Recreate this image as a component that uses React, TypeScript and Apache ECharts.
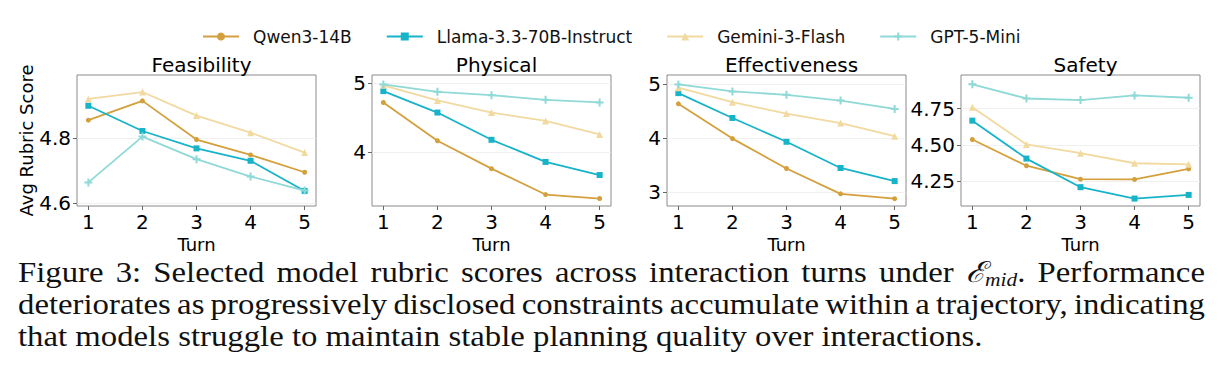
import React, { useEffect, useRef } from 'react';
import * as echarts from 'echarts';

// Turn indices shared by every panel
const turns = [1, 2, 3, 4, 5];

const models = ['Qwen3-14B', 'Llama-3.3-70B-Instruct', 'Gemini-3-Flash', 'GPT-5-Mini'];
const panelTitles = ['Feasibility', 'Physical', 'Effectiveness', 'Safety'];

// Average rubric score per turn
const feasibilityQwen = [4.854, 4.913, 4.795, 4.748, 4.695];
const feasibilityLlama = [4.898, 4.821, 4.768, 4.73, 4.638];
const feasibilityGemini = [4.919, 4.94, 4.868, 4.816, 4.755];
const feasibilityGpt = [4.664, 4.804, 4.735, 4.682, 4.639];

const physicalQwen = [4.721, 4.162, 3.755, 3.377, 3.319];
const physicalLlama = [4.887, 4.574, 4.176, 3.853, 3.662];
const physicalGemini = [4.971, 4.75, 4.574, 4.451, 4.255];
const physicalGpt = [4.985, 4.877, 4.828, 4.76, 4.721];

const effectivenessQwen = [4.639, 3.994, 3.439, 2.97, 2.88];
const effectivenessLlama = [4.838, 4.377, 3.935, 3.449, 3.206];
const effectivenessGemini = [4.938, 4.67, 4.458, 4.283, 4.04];
const effectivenessGpt = [5.0, 4.869, 4.807, 4.7, 4.545];

const safetyQwen = [4.538, 4.358, 4.266, 4.264, 4.336];
const safetyLlama = [4.667, 4.407, 4.211, 4.133, 4.158];
const safetyGemini = [4.759, 4.504, 4.444, 4.375, 4.368];
const safetyGpt = [4.916, 4.819, 4.808, 4.84, 4.824];

// Y tick values per panel
const feasibilityTicks = [4.6, 4.8];
const physicalTicks = [4, 5];
const effectivenessTicks = [3, 4, 5];
const safetyTicks = [4.25, 4.5, 4.75];

// Caption text
const captionLine1Before = 'Figure 3: Selected model rubric scores across interaction turns under';
const captionScriptE = '\u2130';
const captionSub = 'mid';
const captionLine1After = 'Performance';
const captionLine2 = 'deteriorates as progressively disclosed constraints accumulate within a trajectory, indicating';
const captionLine3 = 'that models struggle to maintain stable planning quality over interactions.';

const modelColors = ['#D4A03D', '#17B3C9', '#F1D9A0', '#8FD9D7'];
const plusPath = 'path://M3,0H5V3H8V5H5V8H3V5H0V3H3Z';
const modelSymbols = ['circle', 'rect', 'triangle', plusPath];
const modelSymbolSizes = [5, 6, 7, 8];

const SANS = '"DejaVu Sans", sans-serif';
const SERIF = '"Liberation Serif", serif';
const SCRIPT = '"DejaVu Serif", serif';

type Seg = { text: string; size: number; family: string; italic?: boolean; dy?: number };

export default function App() {
  const ref = useRef<HTMLDivElement>(null);

  useEffect(() => {
    if (!ref.current) return;
    const chart = echarts.init(ref.current, null, { renderer: 'svg' });

    const panelValues = [
      [feasibilityQwen, feasibilityLlama, feasibilityGemini, feasibilityGpt],
      [physicalQwen, physicalLlama, physicalGemini, physicalGpt],
      [effectivenessQwen, effectivenessLlama, effectivenessGemini, effectivenessGpt],
      [safetyQwen, safetyLlama, safetyGemini, safetyGpt],
    ];
    const panelTicks = [feasibilityTicks, physicalTicks, effectivenessTicks, safetyTicks];
    const panelLimits = [
      [4.592, 4.992],
      [3.21, 5.122],
      [2.744, 5.174],
      [4.082, 4.98],
    ];
    const panelDecimals = [1, 0, 0, 2];

    const gridLefts = [77, 372, 667, 961];
    const gridWidth = 239;
    const gridTop = 75;
    const gridHeight = 131;

    const grids = gridLefts.map((left) => ({
      left,
      top: gridTop,
      width: gridWidth,
      height: gridHeight,
      show: true,
      borderColor: '#8a8a8a',
      borderWidth: 1,
      backgroundColor: 'transparent',
    }));

    const xAxes = gridLefts.map((_, i) => ({
      type: 'value',
      gridIndex: i,
      min: 0.79,
      max: 5.21,
      name: 'Turn',
      nameLocation: 'middle',
      nameGap: 29,
      nameTextStyle: { fontSize: 18, color: '#000', fontFamily: SANS },
      axisLine: { show: false },
      axisTick: { show: true, length: 4, customValues: turns, lineStyle: { color: '#666' } },
      axisLabel: {
        customValues: turns,
        fontSize: 20,
        color: '#000',
        margin: 6,
        fontFamily: SANS,
        formatter: (v: number) => String(Math.round(v)),
      },
      splitLine: { show: false },
    }));

    const yAxes = gridLefts.map((_, i) => ({
      type: 'value',
      gridIndex: i,
      min: panelLimits[i][0],
      max: panelLimits[i][1],
      name: i === 0 ? 'Avg Rubric Score' : '',
      nameLocation: 'middle',
      nameRotate: 90,
      nameGap: 38,
      nameTextStyle: { fontSize: 18, color: '#000', fontFamily: SANS },
      axisLine: { show: false },
      axisTick: { show: true, length: 4, customValues: panelTicks[i], lineStyle: { color: '#666' } },
      axisLabel: {
        customValues: panelTicks[i],
        fontSize: 20,
        color: '#000',
        margin: 6,
        fontFamily: SANS,
        formatter: (v: number) => v.toFixed(panelDecimals[i]),
      },
      splitLine: { show: true, lineStyle: { color: '#ececec', width: 0.8 } },
    }));

    const series: any[] = [];
    panelValues.forEach((group, p) => {
      group.forEach((vals, m) => {
        series.push({
          type: 'line',
          name: models[m],
          xAxisIndex: p,
          yAxisIndex: p,
          data: turns.map((t, k) => [t, vals[k]]),
          symbol: modelSymbols[m],
          symbolSize: modelSymbolSizes[m],
          showSymbol: true,
          lineStyle: { color: modelColors[m], width: 1.8 },
          itemStyle: { color: modelColors[m] },
          z: 2 + m,
        });
      });
    });

    const titles = gridLefts.map((left, i) => ({
      text: panelTitles[i],
      left: left + gridWidth / 2,
      top: 50,
      textAlign: 'center',
      textStyle: { fontSize: 20, fontWeight: 'normal', color: '#000', fontFamily: SANS },
    }));

    // Caption: words are measured so the first two lines can be justified
    const ctx = document.createElement('canvas').getContext('2d')!;
    const mainSize = 29;
    const subSize = 19;
    const fontOf = (s: Seg) => `${s.italic ? 'italic ' : ''}${s.size}px ${s.family}`;
    const measure = (s: Seg) => {
      ctx.font = fontOf(s);
      return ctx.measureText(s.text).width;
    };
    const main = (text: string): Seg => ({ text, size: mainSize, family: SERIF });
    const textLeft = 18;
    const fullWidth = 1187;
    const sc = 965 / measure(main(captionLine3));

    const graphic: any[] = [];
    const pushSeg = (s: Seg, x: number, y: number) => {
      graphic.push({
        type: 'text',
        x,
        y: y + (s.dy || 0),
        scaleX: sc,
        silent: true,
        style: {
          text: s.text,
          fontSize: s.size,
          fontFamily: s.family,
          fontStyle: s.italic ? 'italic' : 'normal',
          fill: '#111',
          textAlign: 'left',
          textVerticalAlign: 'middle',
        },
      });
    };
    const justify = (words: Seg[][], y: number) => {
      const widths = words.map((w) => w.reduce((acc, s) => acc + measure(s) * sc, 0));
      const total = widths.reduce((a, b) => a + b, 0);
      const gap = (fullWidth - total) / (words.length - 1);
      let x = textLeft;
      words.forEach((w, i) => {
        let cx = x;
        w.forEach((s) => {
          pushSeg(s, cx, y);
          cx += measure(s) * sc;
        });
        x += widths[i] + gap;
      });
    };

    const line1Words: Seg[][] = [
      ...captionLine1Before.split(' ').map((t) => [main(t)]),
      [
        { text: captionScriptE, size: mainSize, family: SCRIPT, italic: true },
        { text: captionSub, size: subSize, family: SERIF, italic: true, dy: 7 },
        main('.'),
      ],
      [main(captionLine1After)],
    ];
    const line2Words: Seg[][] = captionLine2.split(' ').map((t) => [main(t)]);

    justify(line1Words, 272);
    justify(line2Words, 304);
    pushSeg(main(captionLine3), textLeft, 336);

    chart.setOption({
      animation: false,
      backgroundColor: '#fff',
      textStyle: { fontFamily: SANS },
      title: titles,
      legend: {
        data: models,
        left: 197,
        top: 23,
        itemWidth: 36,
        itemHeight: 10,
        itemGap: 34,
        textStyle: { fontSize: 17, color: '#111', fontFamily: SANS, padding: [0, 0, 0, 9] },
      },
      grid: grids,
      xAxis: xAxes,
      yAxis: yAxes,
      series,
      graphic,
    });

    return () => chart.dispose();
  }, []);

  return (
    <div
      ref={ref}
      style={{ position: 'fixed', left: 0, top: 0, width: 1222, height: 377, background: '#fff' }}
    />
  );
}
